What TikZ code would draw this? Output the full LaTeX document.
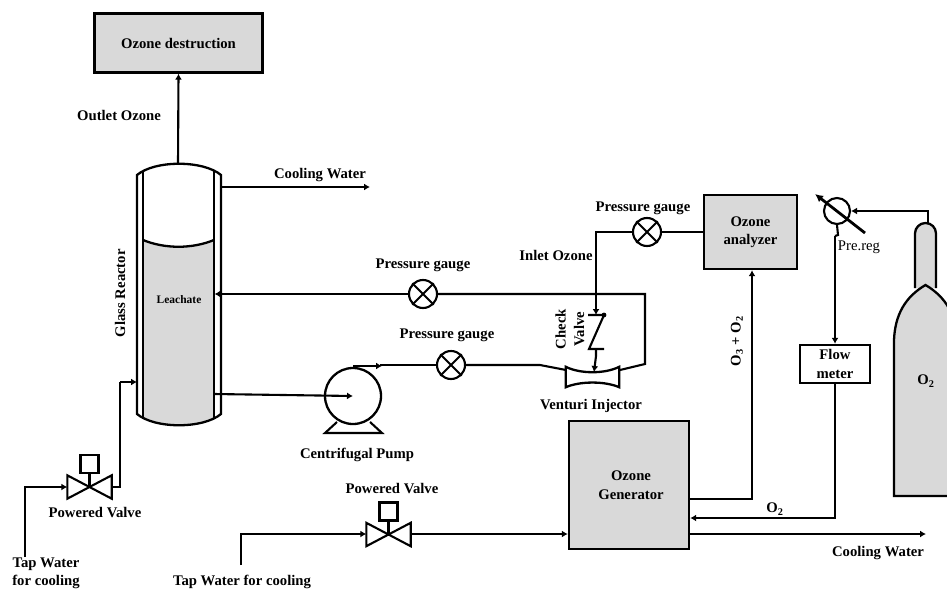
\documentclass[tikz,border=0pt]{standalone}
\usepackage{fontspec}
\setmainfont{Liberation Serif}
\usetikzlibrary{arrows.meta}
\definecolor{fillgray}{HTML}{D9D9D9}
\tikzset{
  line/.style={line width=2.1pt,line join=miter},
  flow/.style={line,-{Latex[length=6pt,width=7pt]}},
  box/.style={draw,line width=2.4pt,fill=fillgray,inner sep=0pt,align=center,font=\lbl},
  whitebox/.style={box,fill=white},
  gauge/.style={draw,circle,line width=2.1pt,fill=white,inner sep=0pt,minimum size=28pt},
  valve/.style={inner sep=0pt,minimum width=44pt,minimum height=23pt},
  lab/.style={inner sep=0pt,font=\lbl,align=center,yshift=-1.2pt},
  vessel/.style={line width=2.3pt,line join=miter},
}
\newcommand{\lbl}{\fontsize{14.7}{18.5}\selectfont\bfseries}
\newcommand{\mkgauge}[2]{%
  \node[gauge] (#1) at (#2) {};
  \draw[line] (#1.north east) -- (#1.south west) (#1.north west) -- (#1.south east);}
\newcommand{\mkvalve}[2]{%
  \node[valve] (#1) at (#2) {};
  \draw[line] (#1.north west) -- (#1.south east) -- (#1.north east) -- (#1.south west) -- cycle;
  \node[draw,line width=2.1pt,fill=white,inner sep=0pt,minimum size=18pt,anchor=south] (#1act) at ([yshift=13pt]#1.center) {};
  \draw[line] (#1act.south) -- (#1.center);}
\begin{document}
\begin{tikzpicture}[x=1pt,y=-1pt]
\clip (0,0) rectangle (947,589);
\fill[white] (0,0) rectangle (947,589);

% boxes
\node[box,minimum width=168pt,minimum height=59pt] (destr) at (178.5,43) {Ozone destruction};
\node[box,minimum width=93pt,minimum height=74pt] (analyzer) at (750.5,232) {Ozone\\analyzer};
\node[box,minimum width=120pt,minimum height=128pt] (gen) at (629,485) {};
\node[lab] (gentxt) at (631,484) {Ozone\\Generator};
\node[whitebox,minimum width=70pt,minimum height=38pt] (flowm) at (835,364) {Flow\\meter};

% reactor
\fill[fillgray] (143,240) .. controls (165,249) and (192,249) .. (214,240) -- (214,418) .. controls (195,428) and (162,428) .. (143,418) -- cycle;
\draw[vessel] (137,175) .. controls (155,160) and (203,160) .. (221,175) -- (221,414) .. controls (203,429) and (155,429) .. (137,414) -- cycle;
\draw[vessel] (143,171) -- (143,418) (214,171) -- (214,418);
\draw[vessel] (143,240) .. controls (165,249) and (192,249) .. (214,240);
\coordinate (rtop) at (178,164);
\coordinate (rcool) at (221,187);
\coordinate (rret) at (214.5,294);
\coordinate (rout) at (214,394);
\coordinate (rin) at (137,382);

% cylinder
\draw[vessel,fill=fillgray] (915,288) -- (915,233.5) arc[start angle=180,end angle=360,radius=10.5] -- (936,288);
\draw[vessel,fill=fillgray] (894,496) -- (894,340) .. controls (895,315) and (905,297) .. (925.5,285) .. controls (946,297) and (956,315) .. (957,340) -- (957,496) -- cycle;
\coordinate (cyltop) at (928,223);

% gauges and valves
\mkgauge{g1}{423,294}
\mkgauge{g2}{451,365}
\mkgauge{g3}{647,232}
\mkvalve{v1}{89.5,487}
\mkvalve{v2}{388.5,534.5}

% pump
\node[draw,circle,line width=2.3pt,fill=white,inner sep=0pt,minimum size=56pt] (pump) at (353,396) {};
\coordinate (pbl) at (325,433);
\coordinate (pbr) at (382,433);
\draw[line] (337,422) -- (pbl) -- (pbr) -- (370,422);
\draw[flow] (rout) -- (pump.center);

% venturi
\node[inner sep=0pt,minimum width=53pt,minimum height=20pt] (ven) at (592.5,377) {};
\draw[vessel] (ven.north west) .. controls (580,374) and (605,374) .. (ven.north east) -- (ven.south east) .. controls (605,381) and (580,381) .. (ven.south west) -- cycle;

% check valve
\coordinate (cvtl) at (588,315);
\coordinate (cvtr) at (604,315);
\coordinate (cvbl) at (589,349);
\coordinate (cvbr) at (604,349);
\draw[line] (cvtl) -- (cvtr) -- (cvbl) -- (cvbr);
\fill (cvtr) circle[radius=2.4pt];
\coordinate (cvtop) at (596,315);
\coordinate (cvbot) at (596,349);

% regulator
\node[draw,circle,line width=2.1pt,fill=white,inner sep=0pt,minimum size=26pt] (reg) at (837,211) {};
\coordinate (regtail) at (865,233);
\coordinate (reghead) at (815,194);
\draw[line width=2.8pt,-{Latex[length=8pt,width=8pt]}] (regtail) -- (reghead);

% connectors
\draw[flow] (rtop) -- (destr.south);
\coordinate (cwend) at (370,187);
\draw[flow] (rcool) -- (cwend);
\coordinate (retcorner) at (645,294);
\coordinate (venr) at (620,370);
\coordinate (venr2) at (645,364);
\draw[line] (venr) -- (venr2) -- (retcorner) -- (g1.east);
\draw[flow] (g1.west) -- (rret);
\draw[line] (g2.east) -- (540,365) -- (566,370);
\coordinate (pumptop) at (353,366);
\draw[flow] (pumptop) -- (382,366);
\draw[line] (380,365) -- (g2.west);
\coordinate (inletc) at (596,232);
\draw[line] (analyzer.west |- g3) -- (g3.east);
\draw[flow] (g3.west) -- (inletc) -- (cvtop);
\coordinate (venin) at (594,372);
\draw[flow] (cvbot) -- (596,356) -- (venin);
\coordinate (t1) at (25,557);
\coordinate (t1c) at (25,487);
\draw[flow] (t1) -- (t1c) -- (v1.west |- t1c);
\coordinate (v1r) at (120,487);
\coordinate (v1u) at (120,382);
\draw[line] (v1.east |- v1r) -- (v1r) -- (v1u);
\draw[flow] (v1u) -- (rin);
\coordinate (t2) at (241,565);
\coordinate (t2c) at (241,534);
\draw[flow] (t2) -- (t2c) -- (v2.west |- t2c);
\draw[flow] (v2.east |- t2c) -- (gen.west |- t2c);
\coordinate (o3c) at (752,499);
\draw[flow] (gen.east |- o3c) -- (o3c) -- (analyzer.south -| o3c);
\coordinate (o2c) at (835,518);
\draw[flow] (flowm.south) -- (o2c) -- (gen.east |- o2c);
\coordinate (cwend2) at (926,534);
\draw[flow] (gen.east |- cwend2) -- (cwend2);
\coordinate (cylc) at (928,211);
\draw[flow] (cyltop) -- (cylc) -- (reg.east);
\coordinate (regb1) at (838,235);
\coordinate (regb2) at (835,236);
\draw[line] (reg.south) -- (regb1) -- (regb2);
\draw[flow] (regb2) -- (flowm.north);

% labels
\node[lab] (lOutlet) at (119,114) {Outlet Ozone};
\node[lab,rotate=90] (lGlass) at (120,292) {Glass Reactor};
\node[lab] (lCw1) at (320,174) {Cooling Water};
\node[inner sep=0pt,font=\fontsize{11.5}{13}\selectfont\bfseries] (lLeach) at (179,300) {Leachate};
\node[lab] (lP1) at (423,264) {Pressure gauge};
\node[lab] (lP2) at (447,334) {Pressure gauge};
\node[lab] (lP3) at (643,207) {Pressure gauge};
\node[lab] (lIn) at (556,254) {Inlet Ozone};
\node[lab,rotate=90] (lCheck) at (570,328) {Check\\Valve};
\node[lab] (lVen) at (591,405) {Venturi Injector};
\node[lab] (lPump) at (357,454) {Centrifugal Pump};
\node[lab] (lPv1) at (95,511) {Powered Valve};
\node[lab] (lPv2) at (392,487) {Powered Valve};
\node[lab] (lTap1) at (46,572) {Tap Water\\for cooling};
\node[lab] (lTap2) at (242,580.5) {Tap Water for cooling};
\node[lab] (lCw2) at (878,552) {Cooling Water};
\node[lab] (lO2a) at (775,508) {O\textsubscript{2}};
\node[lab] (lO2b) at (926,380) {O\textsubscript{2}};
\node[lab,rotate=90] (lO3) at (737,340) {O\textsubscript{3} + O\textsubscript{2}};
\node[inner sep=0pt,font=\fontsize{14.7}{17}\selectfont] (lReg) at (859,247) {Pre.reg};
\end{tikzpicture}
\end{document}
